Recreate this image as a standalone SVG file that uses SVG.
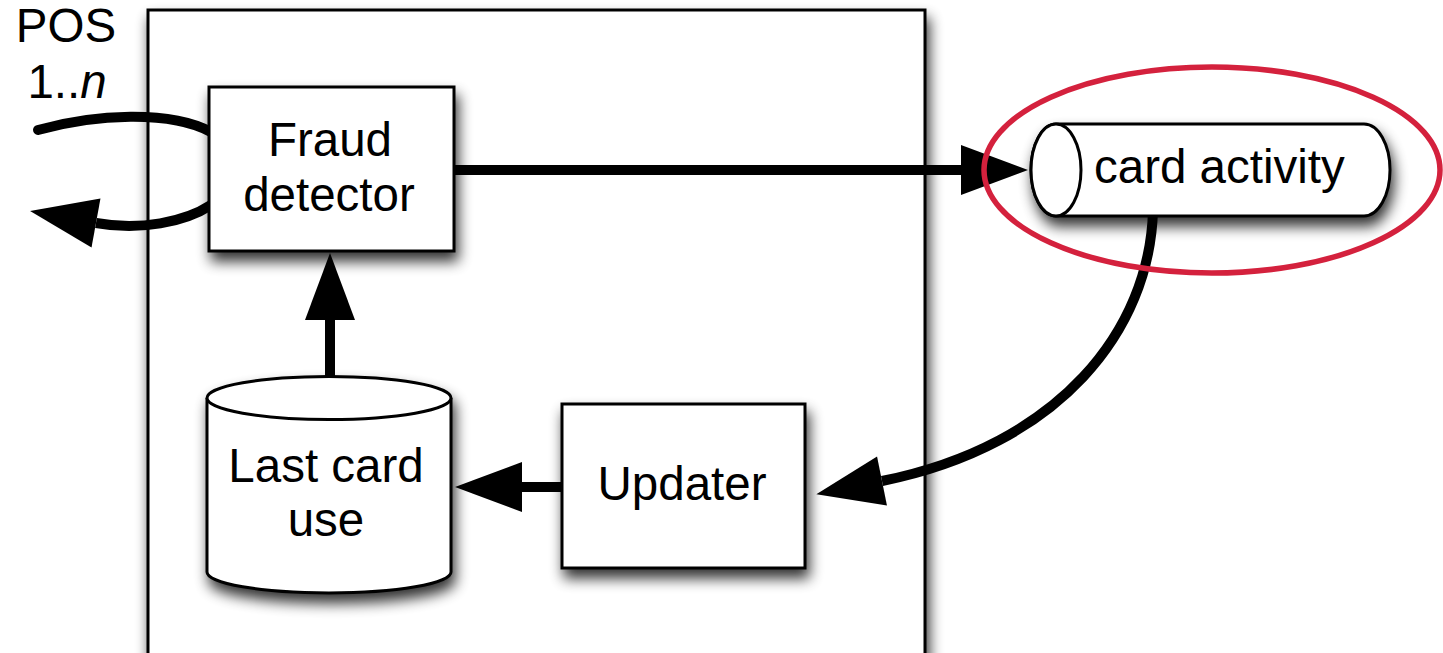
<svg xmlns="http://www.w3.org/2000/svg" width="1443" height="653" viewBox="0 0 1443 653">
  <defs>
    <style>
      .node { fill: #ffffff; stroke: #000000; stroke-width: 3; }
      .label { font-family: "Liberation Sans", Arial, Helvetica, sans-serif; font-size: 47.5px; fill: #000000; }
      .mid { text-anchor: middle; }
      .wire { fill: none; stroke: #000000; stroke-width: 10; }
      .ring { fill: none; stroke: #d4213d; stroke-width: 5.5; }
    </style>
    <filter id="shadow" x="-20%" y="-20%" width="140%" height="150%">
      <feGaussianBlur in="SourceAlpha" stdDeviation="7"/>
      <feOffset dx="3" dy="9" result="blur"/>
      <feComponentTransfer><feFuncA type="linear" slope="0.8"/></feComponentTransfer>
      <feMerge><feMergeNode/><feMergeNode in="SourceGraphic"/></feMerge>
    </filter>
    <marker id="head" markerUnits="userSpaceOnUse" markerWidth="70" markerHeight="54" refX="0" refY="25" orient="auto" overflow="visible">
      <path d="M0,0 L67,25 L0,50 Z" fill="#000000"/>
    </marker>
  </defs>

  <rect width="1443" height="653" fill="#ffffff"/>

  <!-- enclosing service boundary -->
  <g id="service">
    <rect x="148" y="10" width="777" height="660" class="node" filter="url(#shadow)"/>
  </g>

  <!-- POS terminals label -->
  <g id="pos">
    <text x="66" y="42" class="label mid">POS</text>
    <text x="67" y="98" class="label mid">1..<tspan font-style="italic">n</tspan></text>
  </g>

  <g id="connectors">
    <!-- request in from POS -->
    <path d="M38,130 C95,114 170,110 211,132" class="wire" stroke-linecap="round"/>
    <!-- verdict back to POS -->
    <path d="M211,205 C185,222 140,231 96,223" class="wire" marker-end="url(#head)"/>
    <!-- detector publishes to card activity -->
    <path d="M454,170 L961,170" class="wire" marker-end="url(#head)"/>
    <!-- last card use read by detector -->
    <path d="M330,380 L330,320" class="wire" marker-end="url(#head)"/>
    <!-- updater writes last card use -->
    <path d="M563,487 L522,487" class="wire" marker-end="url(#head)"/>
    <!-- card activity consumed by updater -->
    <path d="M1153,210 C1150,330 1060,445 882,481" class="wire" marker-end="url(#head)"/>
  </g>

  <g id="fraud-detector">
    <rect x="209" y="87" width="245" height="164" class="node" filter="url(#shadow)"/>
    <text x="330" y="156" class="label mid">Fraud</text>
    <text x="329" y="211" class="label mid">detector</text>
  </g>

  <g id="last-card-use">
    <path d="M207,398 A122,21.5 0 0 1 451,398 L451,572 A122,21 0 0 1 207,572 Z" class="node" filter="url(#shadow)"/>
    <path d="M207,398 A122,21.5 0 0 0 451,398" class="node" fill="none"/>
    <text x="326" y="482" class="label mid">Last card</text>
    <text x="326" y="536" class="label mid">use</text>
  </g>

  <g id="updater">
    <rect x="562" y="404" width="243" height="164" class="node" filter="url(#shadow)"/>
    <text x="682" y="500" class="label mid">Updater</text>
  </g>

  <g id="card-activity">
    <path d="M1056,124 L1364,124 A26,46 0 0 1 1364,216 L1056,216 A25,46 0 0 1 1056,124 Z" class="node" filter="url(#shadow)"/>
    <ellipse cx="1056" cy="170" rx="25" ry="46" class="node"/>
    <text x="1094" y="183" class="label">card activity</text>
  </g>

  <!-- highlight ring around the topic -->
  <g id="highlight">
    <ellipse cx="1212" cy="170" rx="228" ry="103" class="ring"/>
  </g>
</svg>
